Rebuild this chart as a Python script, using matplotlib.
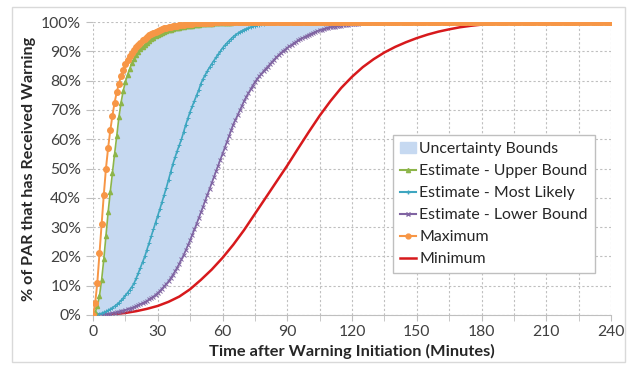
import matplotlib.pyplot as plt
from matplotlib.patches import Rectangle, Patch
from matplotlib.lines import Line2D
import numpy as np

# minutes after warning initiation (one sample per minute)
minutes = np.arange(0, 241)

# % of PAR warned; each list holds the rising part,
# the curve stays at 100% after that
maximum_rise = [0, 4, 11, 21, 31, 41, 50, 57, 63, 68, 72.5, 76, 79, 81.5, 83.5, 85.5, 87, 88.3, 89.5, 90.5,
                91.5, 92.3, 93, 93.7, 94.3, 94.9, 95.4, 95.9, 96.3, 96.7, 97, 97.3, 97.6, 97.8, 98, 98.2, 98.4,
                98.6, 98.7, 98.8, 98.9, 99, 99.1, 99.2, 99.3, 99.4, 99.45, 99.5, 99.55, 99.6, 99.65, 99.7, 99.7,
                99.75, 99.8, 99.8, 99.85, 99.9, 99.9, 99.95, 100]
upper_rise = [0, 1, 3, 6.5, 12, 19, 27, 35, 42, 48.5, 55, 61, 67.5, 72.5, 76.5, 79.5, 82, 84, 86, 87.5,
              88.8, 89.8, 90.7, 91.5, 92.3, 93, 93.6, 94.1, 94.6, 95.1, 95.6, 96, 96.3, 96.6, 96.9, 97.1, 97.4,
              97.6, 97.8, 97.95, 98.1, 98.25, 98.4, 98.5, 98.6, 98.7, 98.8, 98.9, 99, 99.1, 99.2, 99.25, 99.3,
              99.35, 99.4, 99.45, 99.5, 99.55, 99.6, 99.65, 99.7, 99.72, 99.75, 99.78, 99.8, 99.85, 99.88,
              99.9, 99.93, 99.96, 100]
likely_rise = [0, 0.1, 0.2, 0.4, 0.6, 0.9, 1.2, 1.6, 2, 2.5, 3, 3.6, 4.2, 5, 5.8, 6.7, 7.6, 8.6, 9.6, 10.8,
               12.5, 14.3, 16.2, 18.1, 20, 22.3, 24.6, 26.9, 29.2, 31.4, 33.8, 36.2, 38.6, 41, 43.5, 46.2,
               48.9, 51.5, 53.8, 56, 58, 60, 62.5, 65, 67.2, 69.4, 71.3, 73.2, 75, 76.8, 79, 80.6, 82, 83.3,
               84.5, 85.7, 86.8, 87.9, 89, 90, 91.1, 92, 92.8, 93.6, 94.3, 95, 95.6, 96.1, 96.6, 97, 97.4,
               97.7, 98, 98.3, 98.5, 98.7, 98.9, 99.05, 99.2, 99.35, 99.5, 99.6, 99.7, 99.8, 99.85, 99.9,
               99.95, 100]
lower_rise = [0, 0, 0.05, 0.1, 0.15, 0.2, 0.3, 0.4, 0.5, 0.65, 0.8, 0.95, 1.1, 1.3, 1.5, 1.7, 1.95, 2.2,
              2.45, 2.7, 3, 3.35, 3.7, 4.05, 4.4, 4.8, 5.3, 5.8, 6.3, 6.9, 7.5, 8.2, 9, 9.8, 10.6, 11.5, 12.6,
              13.7, 14.9, 16.2, 17.5, 19, 20.5, 22.1, 23.8, 25.5, 27.3, 29.2, 31.1, 33, 35, 37, 39, 41, 43,
              45, 47, 49, 51, 53, 55, 57, 59, 61, 63, 65, 66.6, 68.2, 69.8, 71.4, 73, 74.4, 75.7, 77, 78.3,
              79.5, 80.5, 81.4, 82.3, 83.2, 84, 84.8, 85.6, 86.4, 87.2, 88, 88.7, 89.4, 90, 90.6, 91.2, 91.7,
              92.2, 92.7, 93.2, 93.7, 94.1, 94.5, 94.9, 95.3, 95.7, 96, 96.3, 96.6, 96.9, 97.2, 97.4, 97.6,
              97.8, 98, 98.2, 98.3, 98.45, 98.6, 98.7, 98.8, 98.9, 99, 99.1, 99.15, 99.2, 99.3, 99.4, 99.45,
              99.5, 99.6, 99.65, 99.7, 99.75, 99.8, 99.85, 99.88, 99.92, 99.95, 99.98, 100]

# minimum curve, read every 5 minutes
minimum_t = np.arange(0, 241, 5)
minimum = [0, 0.1, 0.3, 0.7, 1.3, 2.1, 3.1, 4.5, 6.3, 8.8, 12, 15.5, 19.5, 24, 29, 34.5, 40, 45.5, 51,
           56.8, 62.5, 68, 73, 77.5, 81.3, 84.6, 87.3, 89.6, 91.5, 93.1, 94.5, 95.7, 96.7, 97.5, 98.2,
           98.7, 99.1, 99.4, 99.6, 99.8, 99.9, 100, 100, 100, 100, 100, 100, 100, 100]


def full(rise):
    return np.array(rise + [100] * (len(minutes) - len(rise)))


maximum = full(maximum_rise)
upper = full(upper_rise)
likely = full(likely_rise)
lower = full(lower_rise)

c_orange = "#f79646"
c_green = "#8db54a"
c_cyan = "#3ea6c0"
c_purple = "#8064a2"
c_red = "#d7191c"
c_fill = "#c6d9f1"

plt.rcParams["font.family"] = ["Lato", "DejaVu Sans"]

fig = plt.figure(figsize=(6.31, 3.69), dpi=100)
ax = fig.add_axes([93 / 631, 54 / 369, 518 / 631, 293 / 369])

ax.fill_between(minutes, lower, upper, color=c_fill, lw=0, zorder=1)
ax.plot(minimum_t, minimum, color=c_red, lw=1.8, zorder=3)
ax.plot(minutes, lower, color=c_purple, lw=1.2, marker="x", ms=2.5, mew=0.7, zorder=3)
ax.plot(minutes, likely, color=c_cyan, lw=1.2, marker="+", ms=3, mew=0.7, zorder=3)
ax.plot(minutes, upper, color=c_green, lw=1.2, marker="^", ms=3, zorder=4)
ax.plot(minutes, maximum, color=c_orange, lw=1.4, marker="o", ms=4, zorder=5)

ax.set_xlim(0, 240)
ax.set_ylim(0, 100)
ax.set_xticks(np.arange(0, 241, 30))
ax.set_xticks(np.arange(0, 241, 15), minor=True)
ax.set_yticks(np.arange(0, 101, 10))
ax.set_yticklabels([f"{v}%" for v in range(0, 101, 10)])
ax.tick_params(axis="both", labelsize=11.3, colors="#404040")
ax.tick_params(axis="x", which="both", length=4, color="#bfbfbf")
ax.tick_params(axis="y", length=5, color="#bfbfbf")
ax.grid(True, which="both", axis="x", ls=(0, (2, 2)), color="#bfbfbf", lw=0.8)
ax.grid(True, which="major", axis="y", ls=(0, (2, 2)), color="#bfbfbf", lw=0.8)
ax.set_axisbelow(True)
for side in ["top", "right", "left"]:
    ax.spines[side].set_visible(False)
ax.spines["bottom"].set_color("#bfbfbf")

ax.set_xlabel("Time after Warning Initiation (Minutes)", fontsize=11.8, fontweight="bold",
              color="#262626", labelpad=3)
ax.set_ylabel("% of PAR that has Received Warning", fontsize=11.6, fontweight="bold",
              color="#262626", labelpad=4)

handles = [
    Patch(color=c_fill),
    Line2D([], [], color=c_green, marker="^", ms=3),
    Line2D([], [], color=c_cyan, marker="+", ms=3),
    Line2D([], [], color=c_purple, marker="x", ms=2.5),
    Line2D([], [], color=c_orange, marker="o", ms=3.5),
    Line2D([], [], color=c_red, lw=1.8),
]
labels = ["Uncertainty Bounds", "Estimate - Upper Bound", "Estimate - Most Likely",
          "Estimate - Lower Bound", "Maximum", "Minimum"]
leg = ax.legend(handles, labels, loc="upper left", bbox_to_anchor=(393 / 631, 1 - 135 / 369),
                bbox_transform=fig.transFigure, fontsize=11.4, fancybox=False, framealpha=1,
                edgecolor="#bfbfbf", handlelength=1.0, handletextpad=0.2, labelspacing=0.5,
                borderpad=0.45, borderaxespad=0)
for t in leg.get_texts():
    t.set_color("#262626")

fig.patches.append(Rectangle((12 / 631, 7 / 369), 613 / 631, 355 / 369, transform=fig.transFigure,
                             fill=False, edgecolor="#d9d9d9", lw=1))

fig.savefig("out.png", dpi=100)
